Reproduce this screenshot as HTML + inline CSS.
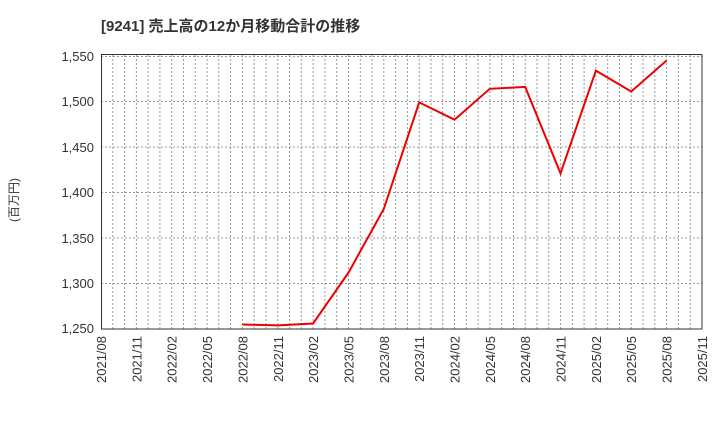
<!DOCTYPE html>
<html><head><meta charset="utf-8"><style>
body{margin:0;background:#fff;}
svg{display:block;font-family:"Liberation Sans","Noto Sans CJK JP",sans-serif;}
</style></head><body>
<svg width="720" height="440" viewBox="0 0 720 440">
<text x="101" y="31" font-size="15" font-weight="bold" fill="#333">[9241]  売上高の12か月移動合計の推移</text>
<path fill="none" stroke="#999" stroke-width="1" stroke-dasharray="2,2" d="M112.8 55V329M124.6 55V329M136.4 55V329M148.1 55V329M159.9 55V329M171.7 55V329M183.5 55V329M195.3 55V329M207.1 55V329M218.8 55V329M230.6 55V329M242.4 55V329M254.2 55V329M266 55V329M277.8 55V329M289.5 55V329M301.3 55V329M313.1 55V329M324.9 55V329M336.7 55V329M348.5 55V329M360.3 55V329M372 55V329M383.8 55V329M395.6 55V329M407.4 55V329M419.2 55V329M431 55V329M442.7 55V329M454.5 55V329M466.3 55V329M478.1 55V329M489.9 55V329M501.7 55V329M513.4 55V329M525.2 55V329M537 55V329M548.8 55V329M560.6 55V329M572.4 55V329M584.1 55V329M595.9 55V329M607.7 55V329M619.5 55V329M631.3 55V329M643.1 55V329M654.8 55V329M666.6 55V329M678.4 55V329M690.2 55V329M101 56.5H702M101 101.5H702M101 147H702M101 192.5H702M101 238H702M101 283.5H702"/>
<rect x="101.5" y="54.5" width="600.5" height="274.5" fill="none" stroke="#333" stroke-width="1"/>
<g font-size="13" fill="#333" text-anchor="end">
<text x="94" y="61">1,550</text>
<text x="94" y="106">1,500</text>
<text x="94" y="152">1,450</text>
<text x="94" y="197">1,400</text>
<text x="94" y="243">1,350</text>
<text x="94" y="288">1,300</text>
<text x="94" y="333">1,250</text>
</g>
<text transform="translate(18,200) rotate(-90)" font-size="12" fill="#333" text-anchor="middle">(百万円)</text>
<g font-size="13" fill="#333" text-anchor="end">
<text transform="translate(106,336) rotate(-90)">2021/08</text>
<text transform="translate(141.4,336) rotate(-90)">2021/11</text>
<text transform="translate(176.7,336) rotate(-90)">2022/02</text>
<text transform="translate(212.1,336) rotate(-90)">2022/05</text>
<text transform="translate(247.4,336) rotate(-90)">2022/08</text>
<text transform="translate(282.8,336) rotate(-90)">2022/11</text>
<text transform="translate(318.1,336) rotate(-90)">2023/02</text>
<text transform="translate(353.5,336) rotate(-90)">2023/05</text>
<text transform="translate(388.8,336) rotate(-90)">2023/08</text>
<text transform="translate(424.2,336) rotate(-90)">2023/11</text>
<text transform="translate(459.5,336) rotate(-90)">2024/02</text>
<text transform="translate(494.8,336) rotate(-90)">2024/05</text>
<text transform="translate(530.2,336) rotate(-90)">2024/08</text>
<text transform="translate(565.5,336) rotate(-90)">2024/11</text>
<text transform="translate(600.9,336) rotate(-90)">2025/02</text>
<text transform="translate(636.2,336) rotate(-90)">2025/05</text>
<text transform="translate(671.6,336) rotate(-90)">2025/08</text>
<text transform="translate(707,336) rotate(-90)">2025/11</text>
</g>
<polyline fill="none" stroke="#e00" stroke-width="2" points="242.4,324.5 277.8,325.4 313.1,323.5 348.5,272.6 383.8,208.9 419.2,102.4 454.5,119.7 489.8,88.8 525.2,86.9 560.5,173.4 595.9,70.6 631.2,91.5 666.6,60.5"/>
</svg>
</body></html>
